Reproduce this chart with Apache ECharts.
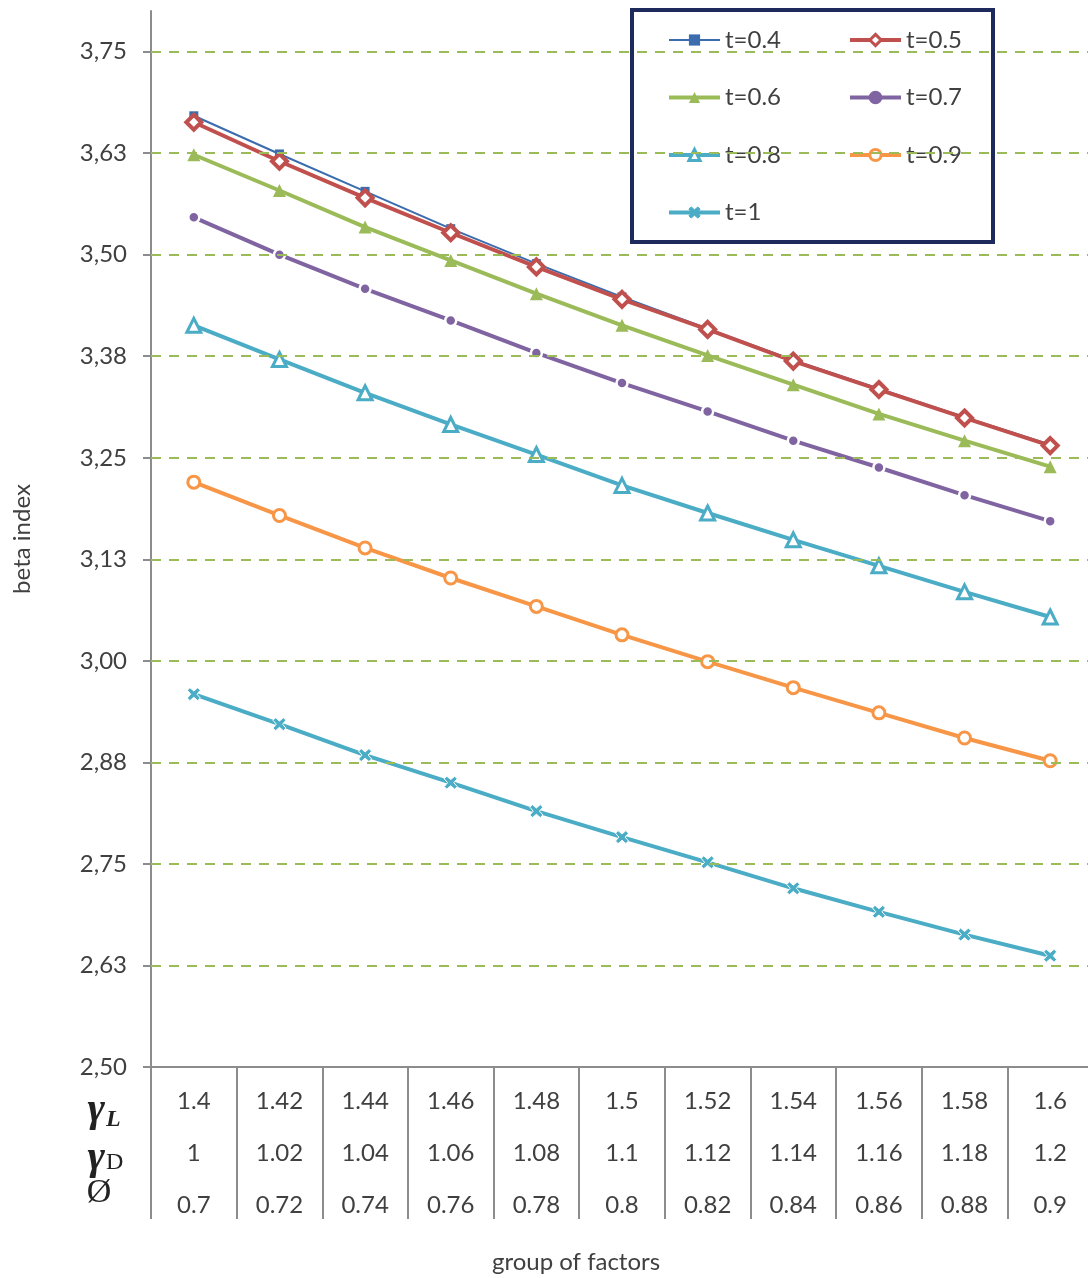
<!DOCTYPE html>
<html>
<head>
<meta charset="utf-8">
<script src="https://cdn.jsdelivr.net/npm/echarts@6/dist/echarts.min.js"></script>
<style>
html,body{margin:0;padding:0;background:#fff;}
#chart{width:1088px;height:1278px;}
</style>
</head>
<body>
<div id="chart"></div>
<script>
// ---- data ----
const gammaL = ['1.4','1.42','1.44','1.46','1.48','1.5','1.52','1.54','1.56','1.58','1.6'];
const gammaD = ['1','1.02','1.04','1.06','1.08','1.1','1.12','1.14','1.16','1.18','1.2'];
const phi    = ['0.7','0.72','0.74','0.76','0.78','0.8','0.82','0.84','0.86','0.88','0.9'];

const t04 = [3.671,3.624,3.578,3.532,3.489,3.448,3.409,3.370,3.335,3.300,3.266];
const t05 = [3.663,3.615,3.570,3.527,3.485,3.445,3.408,3.369,3.334,3.299,3.265];
const t06 = [3.623,3.579,3.534,3.493,3.452,3.413,3.376,3.340,3.304,3.271,3.239];
const t07 = [3.546,3.500,3.458,3.419,3.379,3.342,3.307,3.271,3.238,3.204,3.172];
const t08 = [3.413,3.371,3.330,3.291,3.254,3.216,3.182,3.149,3.117,3.085,3.054];
const t09 = [3.220,3.179,3.139,3.102,3.067,3.032,2.999,2.967,2.936,2.905,2.877];
const t10 = [2.959,2.922,2.884,2.850,2.815,2.783,2.752,2.720,2.691,2.663,2.637];

const yTicks = [2.5,2.625,2.75,2.875,3.0,3.125,3.25,3.375,3.5,3.625,3.75];
const yTickLabels = ['2,50','2,63','2,75','2,88','3,00','3,13','3,25','3,38','3,50','3,63','3,75'];

// ---- chart ----
const FONT = 'Lato, "Open Sans", sans-serif';
const TXT = '#404040';
const chart = echarts.init(document.getElementById('chart'), null, {renderer:'canvas'});

const styles = {
  't=0.4': {color:'#3b6cae', width:2, symbol:'rect', size:9, fill:'#3b6cae', border:'#3b6cae', bw:0},
  't=0.5': {color:'#c0504d', width:4, symbol:'diamond', size:15, fill:'#ffffff', border:'#c0504d', bw:4},
  't=0.6': {color:'#9bbb59', width:4, symbol:'triangle', size:13, fill:'#9bbb59', border:'#9bbb59', bw:0},
  't=0.7': {color:'#8064a2', width:4, symbol:'circle', size:11, fill:'#8064a2', border:'#ffffff', bw:2.5},
  't=0.8': {color:'#4bacc6', width:4, symbol:'triangle', size:14, fill:'#ffffff', border:'#4bacc6', bw:3},
  't=0.9': {color:'#f79646', width:4, symbol:'circle', size:12, fill:'#ffffff', border:'#f79646', bw:3},
  't=1':   {color:'#4bacc6', width:4, symbol:'path://M2,0 L5,2.6 L8,0 L10,2 L7.4,5 L10,8 L8,10 L5,7.4 L2,10 L0,8 L2.6,5 L0,2 Z', size:13, fill:'#4bacc6', border:'#ffffff', bw:1}
};

function lineSeries(name, data) {
  const s = styles[name];
  return {
    name, type:'line', data, z:2,
    symbol:s.symbol, symbolSize:s.size, showSymbol:true,
    lineStyle:{color:s.color, width:s.width},
    itemStyle:{color:s.fill, borderColor:s.border, borderWidth:s.bw},
    emphasis:{disabled:true}
  };
}
function legendItem(name) {
  const s = styles[name];
  return {name, lineStyle:{color:s.color, width:s.width},
          itemStyle:{color:s.fill, borderColor:s.border === '#ffffff' ? s.fill : s.border, borderWidth:Math.min(s.bw,3)}};
}
const legendCommon = {
  orient:'vertical', top:28, padding:0,
  itemWidth:51, itemHeight:14, itemGap:33.5, z:5,
  textStyle:{fontSize:24, lineHeight:24, color:TXT, fontFamily:FONT}
};

const option = {
  animation:false,
  backgroundColor:'#ffffff',
  textStyle:{fontFamily:FONT},
  grid:{left:151, top:11, width:942, bottom:211, containLabel:false, outerBoundsMode:'none'},
  legend:[
    Object.assign({left:667, data:['t=0.4','t=0.6','t=0.8','t=1'].map(legendItem)}, legendCommon),
    Object.assign({left:848, data:['t=0.5','t=0.7','t=0.9'].map(legendItem)}, legendCommon)
  ],
  xAxis:{
    type:'category', data:gammaL, boundaryGap:true,
    axisLine:{lineStyle:{color:'#8c8c8c', width:2}},
    axisTick:{show:true, length:152, lineStyle:{color:'#8c8c8c', width:2}},
    axisLabel:{
      interval:0, margin:8, color:TXT, fontSize:24, lineHeight:52, fontFamily:FONT,
      formatter:(v, i) => gammaL[i] + '\n' + gammaD[i] + '\n' + phi[i]
    },
    splitLine:{show:false}
  },
  yAxis:{
    type:'value', min:2.5, max:3.8, interval:0.125,
    name:'beta index', nameLocation:'middle', nameGap:117, nameRotate:90,
    nameTextStyle:{fontSize:24, color:TXT, fontFamily:FONT},
    axisLine:{show:true, lineStyle:{color:'#8c8c8c', width:2}},
    axisTick:{show:true, length:8, lineStyle:{color:'#8c8c8c', width:2}},
    axisLabel:{
      margin:24, color:TXT, fontSize:24, fontFamily:FONT, showMaxLabel:false,
      formatter:(v) => {
        const i = yTicks.findIndex(t => Math.abs(t - v) < 1e-6);
        return i >= 0 ? yTickLabels[i] : '';
      }
    },
    splitLine:{show:false}
  },
  series:[
    {
      name:'grid', type:'line', data:gammaL.map(() => null), z:1, silent:true,
      markLine:{
        silent:true, symbol:['none','none'], label:{show:false}, precision:4,
        lineStyle:{color:'#9bbb59', type:[10,8], width:2},
        emphasis:{disabled:true},
        data:yTicks.slice(1).map(v => ({yAxis:v}))
      }
    },
    lineSeries('t=0.4', t04),
    lineSeries('t=0.5', t05),
    lineSeries('t=0.6', t06),
    lineSeries('t=0.7', t07),
    lineSeries('t=0.8', t08),
    lineSeries('t=0.9', t09),
    lineSeries('t=1', t10)
  ],
  graphic:[
    {type:'rect', z:3, shape:{x:632, y:10, width:361, height:232},
     style:{fill:'#ffffff', stroke:'#1f2a5c', lineWidth:4}},
    {type:'text', z:3, x:576, y:1262,
     style:{text:'group of factors', font:'24px ' + FONT, fill:TXT, align:'center', verticalAlign:'middle'}},
    {type:'text', z:3, x:105, y:1110,
     style:{text:'γ', font:'italic bold 42px "Liberation Serif", serif', fill:'#222', align:'right', verticalAlign:'middle'}},
    {type:'text', z:3, x:106, y:1120,
     style:{text:'L', font:'italic bold 24px "Liberation Serif", serif', fill:'#222', align:'left', verticalAlign:'middle'}},
    {type:'text', z:3, x:105, y:1158,
     style:{text:'γ', font:'italic bold 42px "Liberation Serif", serif', fill:'#222', align:'right', verticalAlign:'middle'}},
    {type:'text', z:3, x:106, y:1163,
     style:{text:'D', font:'24px "Liberation Serif", serif', fill:'#222', align:'left', verticalAlign:'middle'}},
    {type:'text', z:3, x:99, y:1193,
     style:{text:'Ø', font:'34px "Liberation Serif", serif', fill:'#222', align:'center', verticalAlign:'middle'}}
  ]
};
chart.setOption(option);
</script>
</body>
</html>
